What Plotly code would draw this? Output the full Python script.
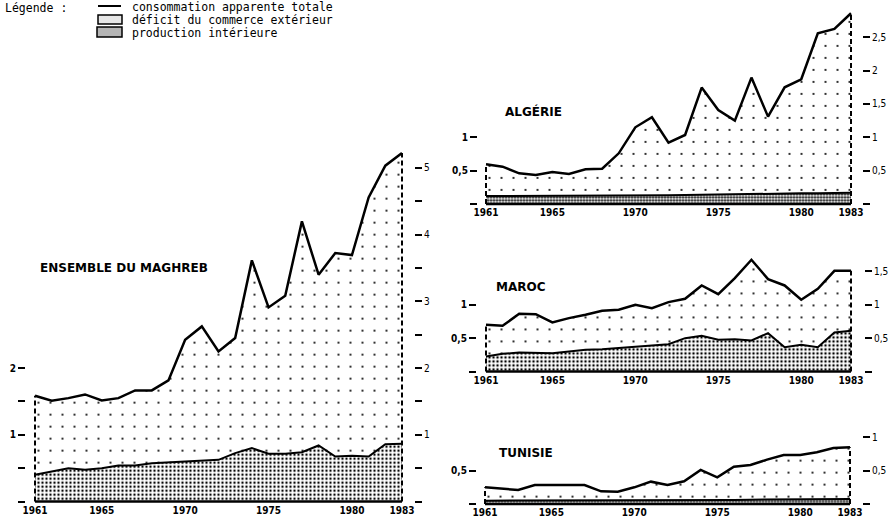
import plotly.graph_objects as go

W, H = 888, 517

years = list(range(1961, 1984))

maghreb_total = [1.585, 1.51, 1.55, 1.605, 1.515, 1.55, 1.665, 1.665, 1.815, 2.425, 2.625, 2.25,
                 2.45, 3.615, 2.91, 3.085, 4.2, 3.4, 3.725, 3.695, 4.56, 5.035, 5.225]
maghreb_prod = [0.40, 0.45, 0.50, 0.475, 0.50, 0.54, 0.54, 0.575, 0.59, 0.60, 0.61, 0.625,
                0.725, 0.80, 0.715, 0.715, 0.74, 0.84, 0.675, 0.685, 0.675, 0.86, 0.865]

algerie_total = [0.595, 0.56, 0.46, 0.435, 0.48, 0.45, 0.52, 0.53, 0.76, 1.15, 1.30, 0.92,
                 1.035, 1.745, 1.41, 1.25, 1.895, 1.31, 1.75, 1.87, 2.56, 2.625, 2.86]
algerie_prod = [0.12, 0.12, 0.12, 0.12, 0.12, 0.12, 0.12, 0.125, 0.13, 0.13, 0.13, 0.13,
                0.135, 0.14, 0.14, 0.145, 0.15, 0.15, 0.155, 0.16, 0.16, 0.165, 0.17]

maroc_total = [0.70, 0.685, 0.865, 0.86, 0.735, 0.80, 0.85, 0.91, 0.925, 1.00, 0.95, 1.04,
               1.09, 1.29, 1.16, 1.40, 1.675, 1.385, 1.29, 1.075, 1.24, 1.51, 1.51]
maroc_prod = [0.225, 0.265, 0.285, 0.275, 0.275, 0.30, 0.325, 0.335, 0.355, 0.375, 0.385, 0.41,
              0.50, 0.535, 0.475, 0.485, 0.465, 0.575, 0.365, 0.40, 0.365, 0.585, 0.61]

tunisie_total = [0.25, 0.225, 0.21, 0.285, 0.285, 0.285, 0.285, 0.19, 0.185, 0.25, 0.335, 0.285,
                 0.34, 0.51, 0.40, 0.56, 0.585, 0.665, 0.735, 0.735, 0.775, 0.84, 0.85]
tunisie_prod = [0.05, 0.05, 0.05, 0.05, 0.05, 0.05, 0.05, 0.05, 0.055, 0.055, 0.055, 0.055,
                0.06, 0.06, 0.06, 0.06, 0.065, 0.065, 0.07, 0.07, 0.07, 0.075, 0.075]

x_tick_vals = [1961, 1965, 1970, 1975, 1980, 1983]
x_tick_text = ["1961", "1965", "1970", "1975", "1980", "1983"]

panel_titles = ["ENSEMBLE DU MAGHREB", "ALGÉRIE", "MAROC", "TUNISIE"]
legend_title = "Légende :"
legend_labels = ["consommation apparente totale",
                 "déficit du commerce extérieur",
                 "production intérieure"]

# per-panel left / right tick values and labels
left_ticks = [
    ([0, 0.5, 1, 1.5, 2], ["", "", "1", "", "2"]),
    ([0, 0.5, 1], ["", "0,5", "1"]),
    ([0, 0.5, 1], ["", "0,5", "1"]),
    ([0, 0.5], ["", "0,5"]),
]
right_ticks = [
    ([0, 0.5, 1, 1.5, 2, 2.5, 3, 3.5, 4, 4.5, 5], ["", "", "1", "", "2", "", "3", "", "4", "", "5"]),
    ([0, 0.5, 1, 1.5, 2, 2.5], ["", "0,5", "1", "1,5", "2", "2,5"]),
    ([0, 0.5, 1, 1.5], ["", "0,5", "1", "1,5"]),
    ([0, 0.5, 1], ["", "0,5", "1"]),
]

panels = [
    (maghreb_total, maghreb_prod),
    (algerie_total, algerie_prod),
    (maroc_total, maroc_prod),
    (tunisie_total, tunisie_prod),
]

# ---- layout geometry (pixels) ----
K = 66.7  # pixels per unit on every panel
geom = [
    dict(x0=35, x1=402, y0=501.5, ymax=5.35, lpos=25, rpos=414, title=(124, 268)),
    dict(x0=486, x1=851, y0=204, ymax=3.0, lpos=477, rpos=862, title=(533, 111)),
    dict(x0=486, x1=851, y0=371.5, ymax=1.8, lpos=476, rpos=864, title=(521, 287)),
    dict(x0=485, x1=850, y0=504, ymax=1.1, lpos=476, rpos=862, title=(526, 453)),
]
XR = (1960.85, 1983.15)
YMIN = -0.045

dense_patterns = [
    dict(shape=".", size=4, solidity=0.28, fgcolor="black", bgcolor="white"),
    dict(shape=".", size=3, solidity=0.45, fgcolor="black", bgcolor="white"),
    dict(shape=".", size=4, solidity=0.3, fgcolor="black", bgcolor="white"),
    dict(shape=".", size=3, solidity=0.45, fgcolor="black", bgcolor="white"),
]
sparse_pattern = dict(shape=".", size=12, solidity=0.025, fgcolor="black", bgcolor="white")

fig = go.Figure()
tick_font = dict(family="DejaVu Sans Condensed, DejaVu Sans", size=10, color="black", weight="bold")
rtick_font = dict(family="DejaVu Sans Condensed, DejaVu Sans", size=10, color="black")

for i, (total, prod) in enumerate(panels):
    n = i + 1
    xa = "x" if n == 1 else f"x{n}"
    ya = "y" if n == 1 else f"y{n}"
    g = geom[i]

    fig.add_trace(go.Scatter(x=years, y=prod, mode="lines", fill="tozeroy",
                             fillpattern=dense_patterns[i], fillcolor="white",
                             line=dict(color="black", width=2), xaxis=xa, yaxis=ya,
                             showlegend=False, hoverinfo="skip"))
    fig.add_trace(go.Scatter(x=years, y=total, mode="lines", fill="tonexty",
                             fillpattern=sparse_pattern, fillcolor="white",
                             line=dict(color="black", width=2.5), xaxis=xa, yaxis=ya,
                             showlegend=False, hoverinfo="skip"))
    fig.add_trace(go.Scatter(x=[years[0], years[0], None, years[-1], years[-1]],
                             y=[0, total[0], None, 0, total[-1]], mode="lines",
                             line=dict(color="black", width=2, dash="5px,3px"),
                             xaxis=xa, yaxis=ya, showlegend=False, hoverinfo="skip"))
    fig.add_trace(go.Scatter(x=[years[0], years[-1]], y=[0, 0], mode="lines",
                             line=dict(color="black", width=2.5),
                             xaxis=xa, yaxis=ya, showlegend=False, hoverinfo="skip"))

    kx = (g["x1"] - g["x0"]) / 22.0
    left = g["x0"] - (1961 - XR[0]) * kx
    right = g["x1"] + (XR[1] - 1983) * kx
    bottom = g["y0"] - YMIN * K
    top = g["y0"] - g["ymax"] * K
    xd = [left / W, right / W]
    yd = [1 - bottom / H, 1 - top / H]

    xkey = "xaxis" if n == 1 else f"xaxis{n}"
    ykey = "yaxis" if n == 1 else f"yaxis{n}"
    rkey = f"yaxis{n + 4}"

    fig.update_layout(**{
        xkey: dict(domain=xd, range=list(XR), anchor=ya, showgrid=False, zeroline=False,
                   showline=False, ticks="", tickvals=x_tick_vals, ticktext=x_tick_text,
                   tickfont=tick_font, automargin=False, fixedrange=True,
                   ticklabelstandoff=-2, ticklabeloverflow="allow"),
        ykey: dict(domain=yd, range=[YMIN, g["ymax"]], anchor="free", position=g["lpos"] / W,
                   side="left", showgrid=False, zeroline=False, showline=False,
                   ticks="outside", ticklen=7, tickwidth=2, tickcolor="black",
                   tickvals=left_ticks[i][0], ticktext=left_ticks[i][1],
                   tickfont=tick_font, automargin=False, fixedrange=True,
                   ticklabeloverflow="allow"),
        rkey: dict(domain=yd, range=[YMIN, g["ymax"]], anchor="free", position=g["rpos"] / W,
                   overlaying=ya, side="right", showgrid=False, zeroline=False, showline=False,
                   ticks="outside", ticklen=7, tickwidth=2, tickcolor="black",
                   tickvals=right_ticks[i][0], ticktext=right_ticks[i][1],
                   tickfont=rtick_font, automargin=False, fixedrange=True,
                   ticklabeloverflow="allow"),
    })
    # invisible trace so the right-hand axis is drawn
    fig.add_trace(go.Scatter(x=[years[0]], y=[0], mode="markers", marker=dict(opacity=0),
                             xaxis=xa, yaxis=f"y{n + 4}", showlegend=False, hoverinfo="skip"))

    tx, ty = g["title"]
    fig.add_annotation(x=tx / W, y=1 - ty / H, xref="paper", yref="paper", showarrow=False,
                       text=panel_titles[i], xanchor="center", yanchor="middle",
                       font=dict(family="DejaVu Sans, sans-serif", size=12, color="black",
                                 weight="bold"))

# ---- hand-made legend ----
mono = dict(family="DejaVu Sans Mono, Liberation Mono, monospace", size=11.5, color="black")
fig.add_annotation(x=4 / W, y=1 - 8 / H, xref="paper", yref="paper", showarrow=False,
                   text=legend_title, xanchor="left", yanchor="middle", font=mono, borderpad=0)
rows_y = [7, 20, 32.5]
for lbl, ry in zip(legend_labels, rows_y):
    fig.add_annotation(x=131 / W, y=1 - ry / H, xref="paper", yref="paper", showarrow=False,
                       text=lbl, xanchor="left", yanchor="middle", font=mono, borderpad=0)
fig.add_shape(type="line", xref="paper", yref="paper", x0=98 / W, x1=121 / W,
              y0=1 - 6 / H, y1=1 - 6 / H, line=dict(color="black", width=2))
fig.add_shape(type="rect", xref="paper", yref="paper", x0=98 / W, x1=122 / W,
              y0=1 - 24 / H, y1=1 - 15 / H, line=dict(color="black", width=1.5),
              fillcolor="#e6e6e6")
fig.add_shape(type="rect", xref="paper", yref="paper", x0=97 / W, x1=122 / W,
              y0=1 - 37 / H, y1=1 - 27 / H, line=dict(color="black", width=1.5),
              fillcolor="#b5b5b5")

fig.update_layout(width=W, height=H, margin=dict(l=0, r=0, t=0, b=0),
                  paper_bgcolor="white", plot_bgcolor="rgba(0,0,0,0)",
                  template="none", showlegend=False)

fig.write_html("out.html",
               config={"displayModeBar": False, "staticPlot": True},
               post_script="document.body.style.margin='0px';"
                           "document.body.style.overflow='hidden';")
